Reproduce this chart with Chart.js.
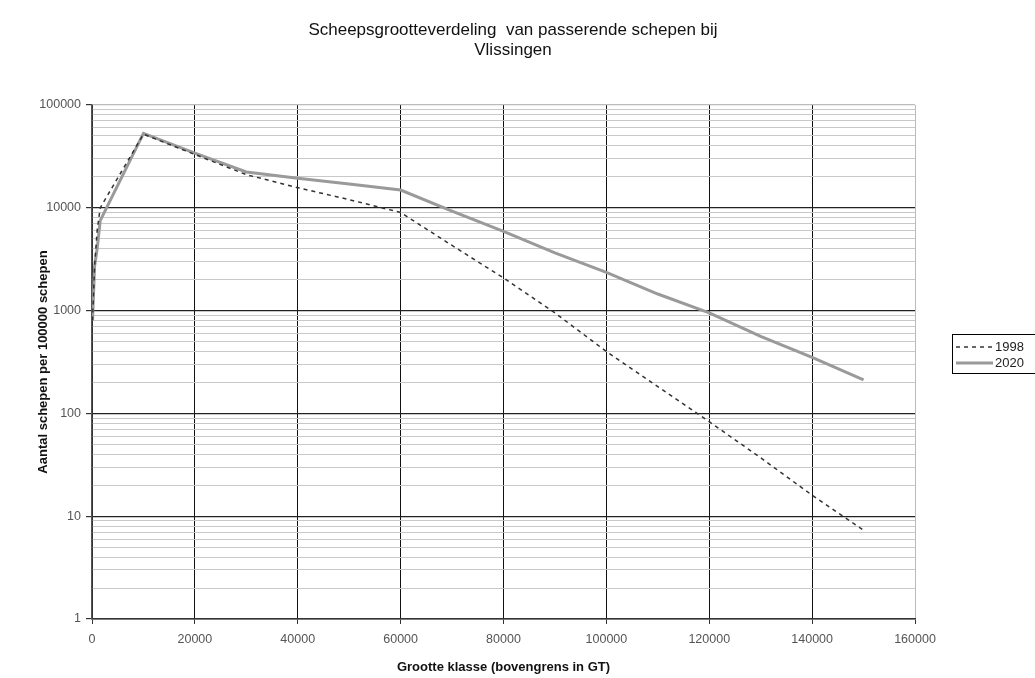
<!DOCTYPE html>
<html>
<head>
<meta charset="utf-8">
<script src="https://cdn.jsdelivr.net/npm/chart.js@4"></script>
<style>
  html, body { margin: 0; padding: 0; background: #fff; }
  #wrap { width: 1035px; height: 678px; }
</style>
</head>
<body>
<div id="wrap"><canvas id="chart"></canvas></div>
<script>
// grootte klassen (bovengrens in GT)
const klassen = [100, 500, 1000, 1600, 10000, 20000, 30000, 40000, 50000, 60000,
  70000, 80000, 90000, 100000, 110000, 120000, 130000, 140000, 150000];

// aantal schepen per 100000 schepen
const schepen1998 = [800, 2700, 6000, 10000, 52000, 33000, 21000, 15700, 12000, 9000,
  4300, 2080, 950, 400, 182, 83, 37, 16, 7.3];
const schepen2020 = [800, 2700, 4000, 7500, 53000, 34000, 22300, 19400, 17000, 14900,
  9300, 5900, 3650, 2350, 1450, 950, 560, 350, 212];

const seriesNames = ["1998", "2020"];
const yLabels = ["1", "10", "100", "1000", "10000", "100000"];
const xMax = 160000;
const xStep = 20000;

const titleLines = ["Scheepsgrootteverdeling  van passerende schepen bij", "Vlissingen"];
const yTitle = "Aantal schepen per 100000 schepen";
const xTitle = "Grootte klasse (bovengrens in GT)";

const FONT = "'Liberation Sans', Arial, sans-serif";
const toPoints = vals => klassen.map((k, i) => ({ x: k, y: vals[i] }));
const isDecade = v => yLabels.includes(String(v));

// title + legend drawn on the canvas
const extras = {
  id: "extras",
  afterDraw(c) {
    const ctx = c.ctx;
    ctx.save();
    ctx.fillStyle = "#111";
    ctx.font = "17px " + FONT;
    ctx.textAlign = "center";
    ctx.textBaseline = "middle";
    titleLines.forEach((t, i) => ctx.fillText(t, 513, 30 + i * 20));

    // legend box
    ctx.strokeStyle = "#000";
    ctx.lineWidth = 1;
    ctx.strokeRect(952.5, 334.5, 100, 39);
    ctx.font = "13px " + FONT;
    ctx.textAlign = "left";
    c.data.datasets.forEach((ds, i) => {
      const y = 347 + i * 16;
      ctx.beginPath();
      ctx.strokeStyle = ds.borderColor;
      ctx.lineWidth = ds.borderWidth;
      ctx.setLineDash(ds.borderDash || []);
      ctx.moveTo(956, y);
      ctx.lineTo(993, y);
      ctx.stroke();
      ctx.setLineDash([]);
      ctx.fillStyle = "#222";
      ctx.fillText(ds.label, 995, y);
    });
    ctx.restore();
  }
};

new Chart(document.getElementById("chart"), {
  type: "line",
  data: {
    datasets: [
      {
        label: seriesNames[0],
        data: toPoints(schepen1998),
        borderColor: "#333",
        borderWidth: 1.5,
        borderDash: [4, 4],
        pointRadius: 0,
        tension: 0
      },
      {
        label: seriesNames[1],
        data: toPoints(schepen2020),
        borderColor: "#9a9a9a",
        borderWidth: 3,
        pointRadius: 0,
        tension: 0
      }
    ]
  },
  options: {
    responsive: true,
    maintainAspectRatio: false,
    animation: false,
    layout: { padding: { top: 105, right: 120, left: 0, bottom: 0 } },
    plugins: {
      legend: { display: false },
      title: { display: false },
      tooltip: { enabled: false }
    },
    scales: {
      x: {
        type: "linear",
        min: 0,
        max: xMax,
        afterFit: s => { s.height = 59; },
        ticks: {
          stepSize: xStep,
          color: "#555",
          font: { family: FONT, size: 12.5 },
          padding: 8,
          maxRotation: 0,
          callback: v => String(v)
        },
        grid: {
          color: c => c.tick && c.tick.value === xMax ? "#bbb" : "#111",
          tickColor: "#333",
          tickLength: 5,
          lineWidth: 1
        },
        border: { color: "#333", width: 1.5 },
        title: {
          display: true,
          text: xTitle,
          color: "#111",
          font: { family: FONT, size: 13, weight: "bold" },
          padding: { top: 0, bottom: 3 }
        }
      },
      y: {
        type: "logarithmic",
        min: 1,
        max: 100000,
        afterFit: s => { s.width = 92; },
        afterBuildTicks: s => {
          const t = [];
          yLabels.forEach(l => {
            const d = Number(l);
            if (d === 100000) { t.push({ value: d }); return; }
            for (let m = 1; m < 10; m++) t.push({ value: d * m });
          });
          s.ticks = t;
        },
        ticks: {
          autoSkip: false,
          color: "#555",
          font: { family: FONT, size: 12.5 },
          padding: 5,
          callback: v => isDecade(v) ? String(v) : ""
        },
        grid: {
          color: c => {
            const v = c.tick && c.tick.value;
            if (v === 100000) return "#bbb";
            return isDecade(v) ? "#222" : "#c8c8c8";
          },
          lineWidth: c => isDecade(c.tick && c.tick.value) ? 1.2 : 1,
          tickColor: c => isDecade(c.tick && c.tick.value) ? "#333" : "rgba(0,0,0,0)",
          tickLength: 6
        },
        border: { color: "#555", width: 1.5 },
        title: {
          display: true,
          text: yTitle,
          color: "#111",
          font: { family: FONT, size: 13, weight: "bold" },
          padding: { top: 36, bottom: 0 }
        }
      }
    }
  },
  plugins: [extras]
});
</script>
</body>
</html>
